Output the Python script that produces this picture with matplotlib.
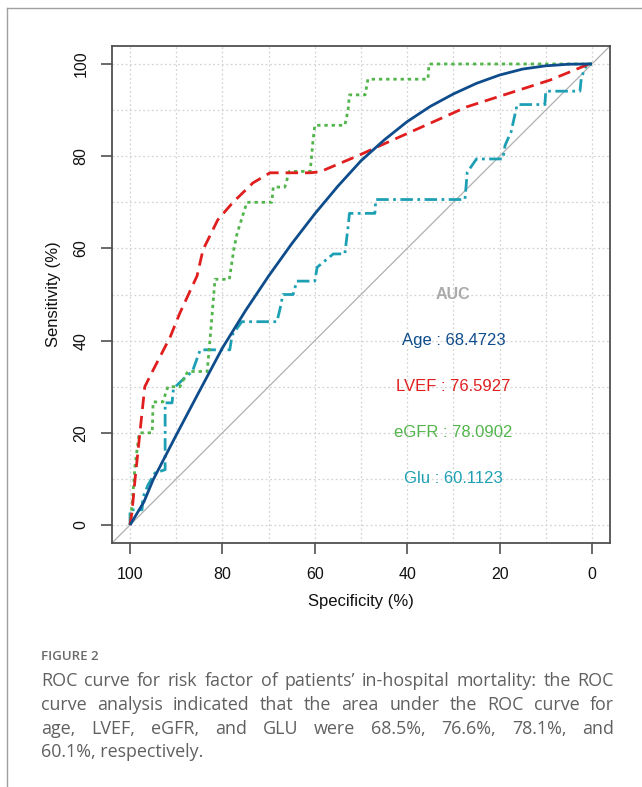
import matplotlib
matplotlib.use('Agg')
import matplotlib.pyplot as plt
from matplotlib.lines import Line2D

# ---------------- data ----------------
age_spec = [100, 97, 95, 90, 85, 80, 75, 70, 65, 60, 55, 50, 45, 40, 35, 30, 25, 20, 15, 10, 5, 0]
age_sens = [0, 5, 9.8, 19.5, 29, 38.4, 46.5, 54, 61, 67.5, 73.5, 79, 83.5, 87.5, 90.8, 93.5, 95.8, 97.6, 98.9, 99.6, 99.95, 100]

lvef_spec = [100, 99.6, 98.9, 97.8, 96.8, 95, 91.3, 89.2, 85.5, 84.2, 81, 77.7, 73.4, 69.7, 61, 58.9, 50.2, 46.5, 27.1, 9.1, 1.1, 0]
lvef_sens = [0, 2.6, 10, 20.6, 30, 33.6, 40.8, 46, 54, 59.7, 66.2, 70, 74.2, 76.4, 76.4, 76.6, 80.3, 82, 90.7, 96.5, 99.8, 100]

egfr_spec = [100, 99.5, 98.9, 98, 95.2, 95, 92.9, 91.8, 89.2, 87.5, 83.3, 82.7, 81.6, 78.5, 77.5, 76.8,
             74.7, 69.3, 69, 66.5, 65.5, 61, 60.4, 60, 53.5, 52.8, 52.5, 49.1, 48.5, 35.5, 35.3, 0]
egfr_sens = [0, 5, 13, 20, 20, 26.7, 26.7, 30, 30, 33.3, 33.3, 40, 53.3, 53.3, 60, 63.3,
             70, 70, 73.3, 73.3, 76.7, 76.7, 83.3, 86.7, 86.7, 90, 93.3, 93.3, 96.7, 96.7, 100, 100]

glu_spec = [100, 100, 97.4, 97.2, 96.1, 94.6, 92.4, 92.4, 90.9, 90.6, 88.1, 86.5, 84.8, 78.4, 77.9, 75.8,
            68.2, 67.5, 66.9, 64.7, 63.9, 60, 59.5, 56, 53.5, 52.8, 52.5, 47, 46.8, 27.5, 27, 25,
            19.3, 18.8, 17.5, 16.2, 10.2, 10, 2.6, 2.3, 1.1, 0]
glu_sens = [0, 3.3, 3.3, 6, 8.7, 11.3, 12, 26.5, 26.5, 29.6, 32, 33.3, 38, 38, 41.2, 44.1,
            44.1, 47, 50, 50, 52.9, 52.9, 55.9, 58.8, 58.8, 64.7, 67.6, 67.6, 70.6, 70.6, 76.5, 79.4,
            79.4, 82.4, 85.3, 91.2, 91.2, 94.1, 94.1, 97.1, 100, 100]

auc_labels = ["Age : 68.4723", "LVEF : 76.5927", "eGFR : 78.0902", "Glu : 60.1123"]
ticks = [0, 20, 40, 60, 80, 100]

caption_title = "FIGURE 2"
caption_lines = [
    "ROC curve for risk factor of patients\u2019 in-hospital mortality: the ROC",
    "curve analysis indicated that the area under the ROC curve for",
    "age, LVEF, eGFR, and GLU were 68.5%, 76.6%, 78.1%, and",
    "60.1%, respectively.",
]

# ---------------- styling ----------------
C_AGE = '#0e4c8c'
C_LVEF = '#e01e1e'
C_EGFR = '#52b54b'
C_GLU = '#1ea0b4'
TXT_FONT = 'Liberation Sans'

W, H = 642, 787
fig = plt.figure(figsize=(W / 100, H / 100), dpi=100)
fig.patch.set_facecolor('white')

# card frame (top and left)
fig.add_artist(Line2D([7 / W, 1], [1 - 8 / H, 1 - 8 / H], color='#a0a0a0', lw=1.0,
                      transform=fig.transFigure))
fig.add_artist(Line2D([7 / W, 7 / W], [0, 1 - 8 / H], color='#a0a0a0', lw=1.0,
                      transform=fig.transFigure))

left, right, top, bottom = 112, 610, 46, 543
ax = fig.add_axes([left / W, 1 - bottom / H, (right - left) / W, (bottom - top) / H])
ax.set_xlim(103.9, -3.9)
ax.set_ylim(-3.9, 103.9)

# grid
for v in range(0, 101, 10):
    ax.axvline(v, color='#d4d4d4', lw=0.9, ls=(0, (1.5, 2)), zorder=0)
    ax.axhline(v, color='#d4d4d4', lw=0.9, ls=(0, (1.5, 2)), zorder=0)

# diagonal
ax.plot([103.9, -3.9], [-3.9, 103.9], color='#b0b0b0', lw=0.9, zorder=1)

ax.plot(glu_spec, glu_sens, color=C_GLU, lw=2.0, dashes=(4.5, 1.6, 1.0, 1.6), zorder=2)
ax.plot(egfr_spec, egfr_sens, color=C_EGFR, lw=2.0, dashes=(1.2, 1.4), zorder=3)
ax.plot(lvef_spec, lvef_sens, color=C_LVEF, lw=2.0, dashes=(4.5, 2.5), zorder=4)
ax.plot(age_spec, age_sens, color=C_AGE, lw=2.0, solid_capstyle='butt', solid_joinstyle='round', zorder=5)

# AUC texts
ax.text(30, 50, "AUC", color='#aaaaaa', fontsize=11.5, fontweight='bold', family=TXT_FONT,
        ha='center', va='center')
for lab, col, yy in zip(auc_labels, [C_AGE, C_LVEF, C_EGFR, C_GLU], [40, 30, 20, 10]):
    ax.text(30, yy, lab, color=col, fontsize=12, family=TXT_FONT, ha='center', va='center')

for s in ax.spines.values():
    s.set_color('#505050')
    s.set_linewidth(1.3)

ax.set_xticks(ticks)
ax.set_yticks(ticks)
ax.set_xticklabels([str(t) for t in ticks], family=TXT_FONT, fontsize=11.5)
ax.set_yticklabels([str(t) for t in ticks], family=TXT_FONT, fontsize=11.5, rotation=90, va='center')
ax.tick_params(direction='out', length=8, width=1.2, color='#505050', pad=9, labelcolor='#111111')
ax.set_xlabel("Specificity (%)", family=TXT_FONT, fontsize=12, labelpad=9, color='#111111')
ax.set_ylabel("Sensitivity (%)", family=TXT_FONT, fontsize=12, labelpad=9, color='#111111')

# caption
CAP_FONT = 'Open Sans'
cap_color = '#606060'
fig.text(41 / W, 1 - 657 / H, caption_title, family=CAP_FONT, fontsize=9.5, fontweight='semibold',
         color='#6a6a6a', ha='left', va='center')

renderer = fig.canvas.get_renderer()
x0, x1 = 41, 614
line_y = [681, 705, 729, 752]
cap_size = 12.9
for i, (ln, yy) in enumerate(zip(caption_lines, line_y)):
    words = ln.split(' ')
    if i == len(caption_lines) - 1:
        fig.text(x0 / W, 1 - yy / H, ln, family=CAP_FONT, fontsize=cap_size, color=cap_color,
                 ha='left', va='center')
        continue
    arts = [fig.text(0, 1 - yy / H, w, family=CAP_FONT, fontsize=cap_size, color=cap_color,
                     ha='left', va='center') for w in words]
    widths = [a.get_window_extent(renderer).width for a in arts]
    gap = (x1 - x0 - sum(widths)) / (len(words) - 1)
    x = x0
    for a, wd in zip(arts, widths):
        a.set_x(x / W)
        x += wd + gap

fig.savefig('out.png', dpi=100, facecolor='white')
